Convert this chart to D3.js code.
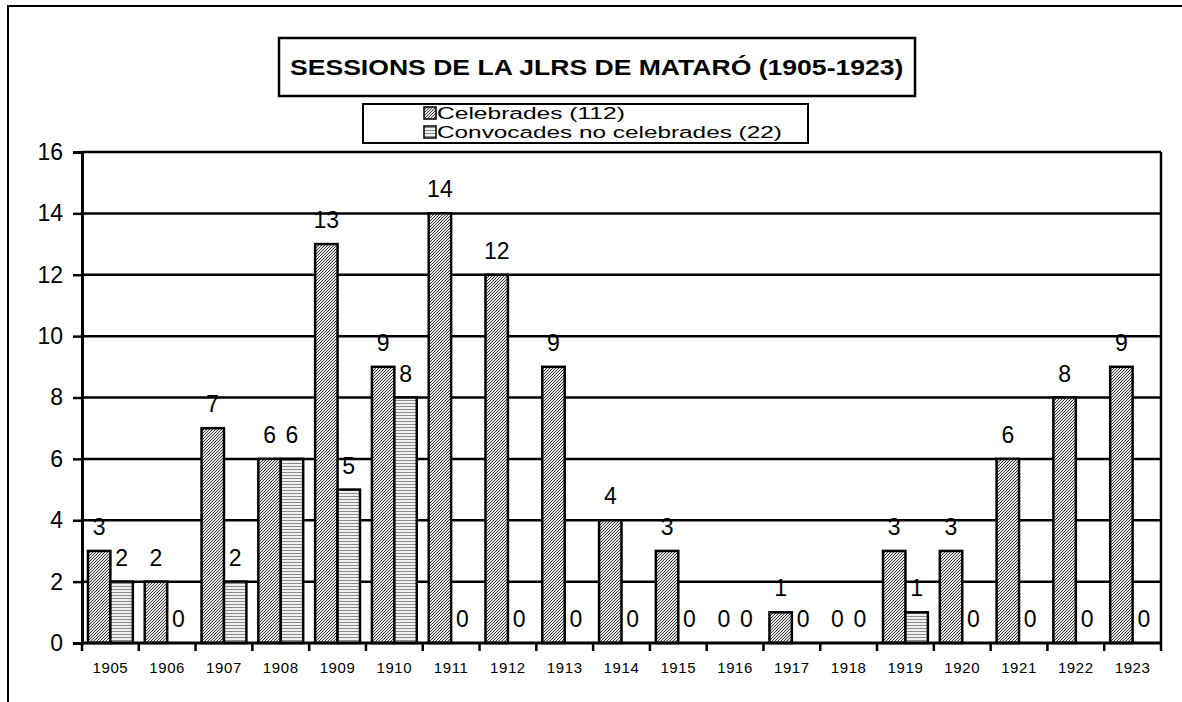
<!DOCTYPE html>
<html>
<head>
<meta charset="utf-8">
<script src="https://cdn.jsdelivr.net/npm/d3@7"></script>
<style>
  html, body { margin: 0; padding: 0; background: #fff; overflow: hidden; }
  svg { display: block; font-family: "Liberation Sans", Arial, sans-serif; }
</style>
</head>
<body>
<svg id="chart" width="1182" height="702"></svg>
<script>
const years = ["1905","1906","1907","1908","1909","1910","1911","1912","1913","1914","1915","1916","1917","1918","1919","1920","1921","1922","1923"];
const celebrades = [3,2,7,6,13,9,14,12,9,4,3,0,1,0,3,3,6,8,9];
const convocades = [2,0,2,6,5,8,0,0,0,0,0,0,0,0,1,0,0,0,0];
const yTicks = [0,2,4,6,8,10,12,14,16];
const titleText = "SESSIONS DE LA JLRS DE MATARÓ (1905-1923)";
const legendLabels = ["Celebrades (112)", "Convocades no celebrades (22)"];

const FONT = "'Liberation Sans', Arial, sans-serif";
const svg = d3.select("#chart");
const defs = svg.append("defs");

// hatch patterns
const pDiag = defs.append("pattern").attr("id","diag").attr("patternUnits","userSpaceOnUse")
  .attr("width",3).attr("height",3);
pDiag.append("rect").attr("width",3).attr("height",3).attr("fill","#e6e6e6");
pDiag.append("path").attr("d","M-1,1 L1,-1 M0,3 L3,0 M2,4 L4,2").attr("stroke","#3a3a3a").attr("stroke-width",1);

const pHor = defs.append("pattern").attr("id","horiz").attr("patternUnits","userSpaceOnUse")
  .attr("width",4).attr("height",3);
pHor.append("rect").attr("width",4).attr("height",3).attr("fill","#f0f0f0");
pHor.append("rect").attr("y",1).attr("width",4).attr("height",1).attr("fill","#8a8a8a");

// outer frame (left + top edges visible)
svg.append("path").attr("d","M8,702 V6 H1182")
  .attr("fill","none").attr("stroke","#000").attr("stroke-width",2);

const L = 82, R = 1161, T = 152, B = 643;
const x0 = d3.scaleBand().domain(years).range([L, R]).padding(0);
const y = d3.scaleLinear().domain([0,16]).range([B, T]);
const bw = x0.bandwidth();
const barW = bw * 0.395;
const off = (bw - 2 * barW) / 2;

// gridlines
svg.append("g").selectAll("line").data(yTicks.filter(d => d > 0)).join("line")
  .attr("x1", L).attr("x2", R).attr("y1", d => y(d)).attr("y2", d => y(d))
  .attr("stroke","#000").attr("stroke-width",2.5);

// right border
svg.append("line").attr("x1",R).attr("x2",R).attr("y1",T).attr("y2",B)
  .attr("stroke","#000").attr("stroke-width",2.5);

// bars
const series = [
  {vals: celebrades, fill: "url(#diag)", idx: 0},
  {vals: convocades, fill: "url(#horiz)", idx: 1}
];
series.forEach(s => {
  const g = svg.append("g");
  g.selectAll("rect").data(years.map((yr,i)=>({yr, v:s.vals[i]})).filter(d => d.v > 0)).join("rect")
    .attr("x", d => x0(d.yr) + off + s.idx*barW)
    .attr("y", d => y(d.v))
    .attr("width", barW)
    .attr("height", d => y(0) - y(d.v))
    .attr("fill", s.fill)
    .attr("stroke","#000").attr("stroke-width",2.5);
});

// data labels
series.forEach(s => {
  svg.append("g").selectAll("text").data(years.map((yr,i)=>({yr, v:s.vals[i]}))).join("text")
    .attr("x", d => x0(d.yr) + off + s.idx*barW + barW/2)
    .attr("y", d => y(d.v) - 16)
    .attr("text-anchor","middle")
    .attr("font-family", FONT)
    .attr("font-size",23)
    .attr("fill","#000")
    .text(d => d.v);
});

// y axis
const yAxis = d3.axisLeft(y).tickValues(yTicks).tickSize(9).tickPadding(10).tickFormat(d3.format("d"));
const gy = svg.append("g").attr("transform",`translate(${L},0)`).call(yAxis);
gy.select(".domain").attr("stroke","#000").attr("stroke-width",3);
gy.selectAll(".tick line").attr("stroke","#000").attr("stroke-width",2.5);
gy.selectAll(".tick text").attr("font-size",23).attr("fill","#000").attr("font-family",FONT);

// x axis
const xAxis = d3.axisBottom(x0).tickSize(0).tickPadding(0);
const gx = svg.append("g").attr("transform",`translate(0,${B})`).call(xAxis);
gx.select(".domain").remove();
gx.selectAll(".tick text").attr("y", 30).attr("dy", 0).attr("font-size",15).attr("letter-spacing","0.6px")
  .attr("fill","#000").attr("font-family",FONT);
svg.append("line").attr("x1",L-1).attr("x2",R+1).attr("y1",B).attr("y2",B)
  .attr("stroke","#000").attr("stroke-width",3);
const boundaries = years.map(yr => x0(yr)).concat([R]);
svg.append("g").selectAll("line").data(boundaries).join("line")
  .attr("x1", d => d).attr("x2", d => d).attr("y1", B).attr("y2", B + 8)
  .attr("stroke","#000").attr("stroke-width",2.5);

// helper: stretch a text horizontally to a target width, left edge at xLeft
function stretch(sel, xLeft, yBase, target) {
  const w = sel.node().getComputedTextLength();
  const k = target / w;
  sel.attr("x", 0).attr("y", 0).attr("transform", `translate(${xLeft},${yBase}) scale(${k},1)`);
}

// title box
svg.append("rect").attr("x",279).attr("y",38).attr("width",636).attr("height",58)
  .attr("fill","#fff").attr("stroke","#000").attr("stroke-width",2.5);
const tt = svg.append("text").attr("font-size",22).attr("font-weight","bold")
  .attr("font-family",FONT).text(titleText);
stretch(tt, 290, 75, 614);

// legend box
svg.append("rect").attr("x",363).attr("y",104).attr("width",445).attr("height",39)
  .attr("fill","#fff").attr("stroke","#000").attr("stroke-width",2);
const legFills = ["url(#diag)","url(#horiz)"];
const legWidths = [188, 345];
legendLabels.forEach((lab,i) => {
  const cy = 113 + i*19;
  svg.append("rect").attr("x",424).attr("y",cy-6).attr("width",12).attr("height",12)
    .attr("fill",legFills[i]).attr("stroke","#000").attr("stroke-width",1.5);
  const t = svg.append("text").attr("font-size",17).attr("font-family",FONT).text(lab);
  stretch(t, 437, cy + 6, legWidths[i]);
});
</script>
</body>
</html>
